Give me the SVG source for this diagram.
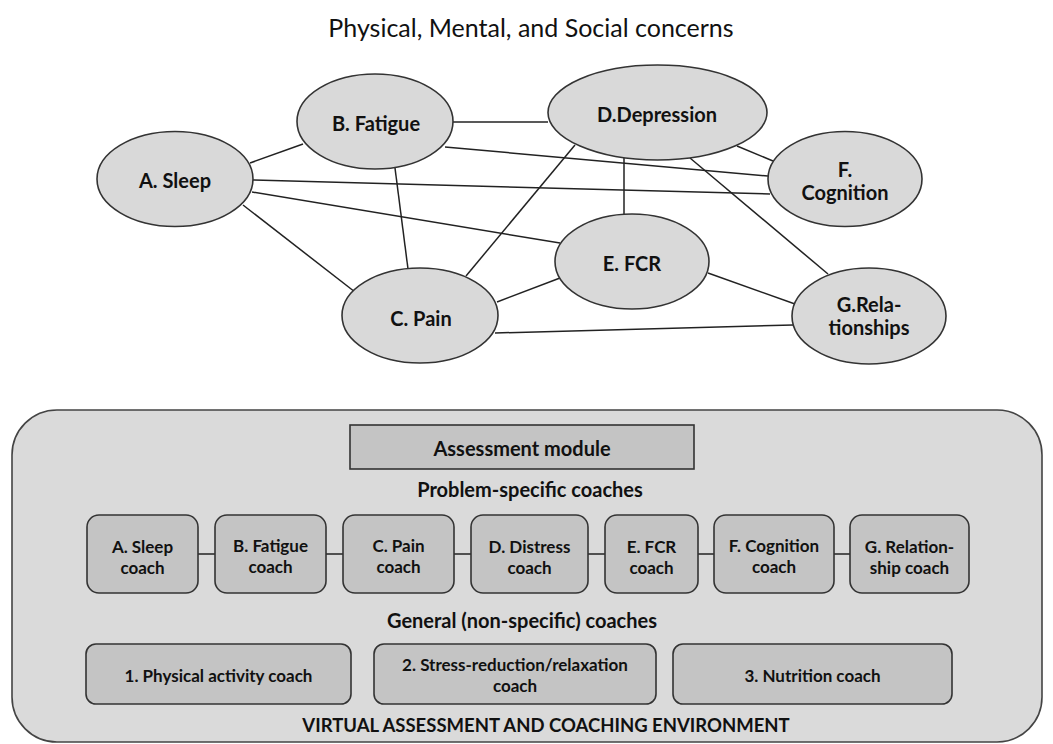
<svg xmlns="http://www.w3.org/2000/svg" width="1053" height="744" viewBox="0 0 1053 744">
<style>
.bg{fill:#ffffff}
.ell{fill:#d9d9d9;stroke:#333;stroke-width:1.6}
.edge{stroke:#222;stroke-width:1.5;fill:none}
.env{fill:#dadada;stroke:#444;stroke-width:1.6}
.box{fill:#c4c4c4;stroke:#333;stroke-width:1.6}
text{font-family:Lato,"Open Sans","Liberation Sans",sans-serif;fill:#111;text-anchor:middle}
.t{font-size:25px}
.n{font-size:20px;font-weight:bold}
.h{font-size:20px;font-weight:bold}
.v{font-size:18.5px;font-weight:bold}
.c{font-size:17px;font-weight:bold}
</style>
<rect class="bg" x="0" y="0" width="1053" height="744"/>
<text class="t" x="531" y="37">Physical, Mental, and Social concerns</text>
<g id="connectors">
<line class="edge" x1="250" y1="163" x2="303" y2="144"/>
<line class="edge" x1="453" y1="122" x2="548" y2="122"/>
<line class="edge" x1="445" y1="147" x2="768" y2="176"/>
<line class="edge" x1="253" y1="180" x2="770" y2="194"/>
<line class="edge" x1="252" y1="192" x2="560" y2="243"/>
<line class="edge" x1="243" y1="205" x2="355" y2="292"/>
<line class="edge" x1="395" y1="168" x2="408" y2="269"/>
<line class="edge" x1="466" y1="276" x2="575" y2="145"/>
<line class="edge" x1="497" y1="302" x2="560" y2="278"/>
<line class="edge" x1="495" y1="333" x2="793" y2="325"/>
<line class="edge" x1="624" y1="158" x2="624" y2="214"/>
<line class="edge" x1="737" y1="146" x2="773" y2="161"/>
<line class="edge" x1="690" y1="158" x2="828" y2="274"/>
<line class="edge" x1="708" y1="273" x2="795" y2="304"/>
</g>
<g id="nodeA"><ellipse class="ell" cx="175" cy="179" rx="78" ry="47.5"/><text class="n" x="175" y="188">A. Sleep</text></g>
<g id="nodeB"><ellipse class="ell" cx="375" cy="121.5" rx="78" ry="47.5"/><text class="n" x="376" y="131">B. Fatigue</text></g>
<g id="nodeC"><ellipse class="ell" cx="420" cy="315.5" rx="78" ry="47.5"/><text class="n" x="421" y="326">C. Pain</text></g>
<g id="nodeD"><ellipse class="ell" cx="657.5" cy="112.5" rx="109.5" ry="47.5"/><text class="n" x="657" y="122">D.Depression</text></g>
<g id="nodeE"><ellipse class="ell" cx="632" cy="261.5" rx="77" ry="47.5"/><text class="n" x="632" y="271">E. FCR</text></g>
<g id="nodeF"><ellipse class="ell" cx="845" cy="179" rx="77" ry="47.5"/><text class="n" x="845" y="177">F.</text><text class="n" x="845" y="200">Cognition</text></g>
<g id="nodeG"><ellipse class="ell" cx="869" cy="316" rx="77" ry="48"/><text class="n" x="869" y="312">G.Rela-</text><text class="n" x="869" y="335">tionships</text></g>
<g id="environment">
<rect class="env" x="12" y="410" width="1030" height="332" rx="45"/>
<text class="v" x="546" y="732">VIRTUAL ASSESSMENT AND COACHING ENVIRONMENT</text>
</g>
<g id="assessment"><rect class="box" x="350" y="425" width="344" height="44"/><text class="h" x="522" y="456">Assessment module</text></g>
<text class="h" x="530" y="497">Problem-specific coaches</text>
<g id="coach-links">
<line class="edge" x1="198" y1="554" x2="215" y2="554"/>
<line class="edge" x1="326" y1="554" x2="343" y2="554"/>
<line class="edge" x1="454" y1="554" x2="471" y2="554"/>
<line class="edge" x1="588" y1="554" x2="605" y2="554"/>
<line class="edge" x1="698" y1="554" x2="714" y2="554"/>
<line class="edge" x1="834" y1="554" x2="850" y2="554"/>
</g>
<g id="coachA"><rect class="box" x="87" y="515" width="111" height="78" rx="12"/><text class="c" x="142.5" y="553">A. Sleep</text><text class="c" x="142.5" y="574">coach</text></g>
<g id="coachB"><rect class="box" x="215" y="515" width="111" height="78" rx="12"/><text class="c" x="270.5" y="552">B. Fatigue</text><text class="c" x="270.5" y="573">coach</text></g>
<g id="coachC"><rect class="box" x="343" y="515" width="111" height="78" rx="12"/><text class="c" x="398.5" y="552">C. Pain</text><text class="c" x="398.5" y="573">coach</text></g>
<g id="coachD"><rect class="box" x="471" y="515" width="117" height="78" rx="12"/><text class="c" x="529.5" y="553">D. Distress</text><text class="c" x="529.5" y="574">coach</text></g>
<g id="coachE"><rect class="box" x="605" y="515" width="93" height="78" rx="12"/><text class="c" x="651.5" y="553">E. FCR</text><text class="c" x="651.5" y="574">coach</text></g>
<g id="coachF"><rect class="box" x="714" y="515" width="120" height="78" rx="12"/><text class="c" x="774" y="552">F. Cognition</text><text class="c" x="774" y="573">coach</text></g>
<g id="coachG"><rect class="box" x="850" y="515" width="119" height="78" rx="12"/><text class="c" x="909.5" y="553">G. Relation-</text><text class="c" x="909.5" y="574">ship coach</text></g>
<text class="h" x="522" y="628">General (non-specific) coaches</text>
<g id="general1"><rect class="box" x="86" y="644" width="265" height="60" rx="10"/><text class="c" x="218.5" y="682">1. Physical activity coach</text></g>
<g id="general2"><rect class="box" x="374" y="644" width="282" height="60" rx="10"/><text class="c" x="515" y="671">2. Stress-reduction/relaxation</text><text class="c" x="515" y="692">coach</text></g>
<g id="general3"><rect class="box" x="673" y="644" width="279" height="60" rx="10"/><text class="c" x="812.5" y="682">3. Nutrition coach</text></g>
</svg>
